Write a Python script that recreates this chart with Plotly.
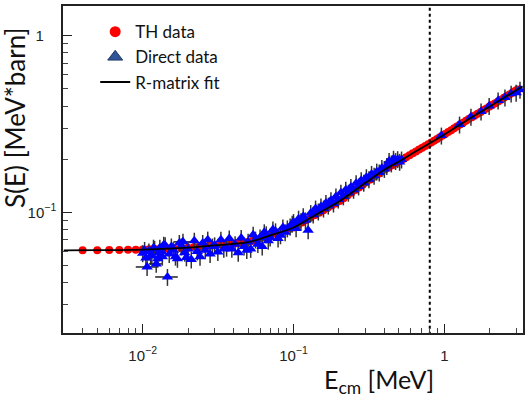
import plotly.graph_objects as go

# ---------------- data ----------------
th_E = [0.004, 0.005, 0.006, 0.007, 0.008, 0.009, 0.010, 0.011, 0.012, 0.013, 0.014, 0.015, 0.016,
        0.018, 0.020, 0.022, 0.024, 0.026, 0.028, 0.030, 0.033, 0.036, 0.039, 0.042, 0.045, 0.049,
        0.053, 0.057, 0.061, 0.066, 0.071, 0.076, 0.082, 0.088, 0.094, 0.100, 0.107, 0.114, 0.122,
        0.130, 0.139, 0.148, 0.158, 0.168, 0.179, 0.190, 0.202, 0.215, 0.228, 0.242, 0.257, 0.272,
        0.288, 0.305, 0.323, 0.342, 0.362, 0.383, 0.405, 0.428, 0.452, 0.477, 0.503, 0.530, 0.558,
        0.587, 0.617, 0.648, 0.680, 0.713, 0.747, 0.782, 0.818, 0.855, 0.893, 0.932, 0.972, 1.013,
        1.06, 1.11, 1.16, 1.21, 1.27, 1.33, 1.39, 1.45, 1.52, 1.59, 1.66, 1.74, 1.82, 1.90, 1.99,
        2.08, 2.17, 2.27, 2.37, 2.48, 2.59, 2.70, 2.82, 2.94, 3.05]
th_S = [0.0610, 0.0610, 0.0611, 0.0612, 0.0613, 0.0614, 0.0615, 0.0617, 0.0619, 0.0620, 0.0622, 0.0624, 0.0625,
        0.0628, 0.0630, 0.0635, 0.0639, 0.0643, 0.0647, 0.0650, 0.0655, 0.0660, 0.0664, 0.0668, 0.0671, 0.0676,
        0.0688, 0.0702, 0.0715, 0.0731, 0.0746, 0.0760, 0.0776, 0.0791, 0.0806, 0.0820, 0.0848, 0.0874, 0.0904,
        0.0933, 0.0964, 0.0994, 0.1026, 0.1057, 0.1091, 0.1123, 0.1157, 0.1201, 0.1244, 0.1289, 0.1337, 0.1383,
        0.1432, 0.1484, 0.1536, 0.1588, 0.1642, 0.1698, 0.1751, 0.1799, 0.1847, 0.1897, 0.1946, 0.1999, 0.2052,
        0.2105, 0.2160, 0.2214, 0.2268, 0.2322, 0.2377, 0.2432, 0.2489, 0.2546, 0.2605, 0.2663, 0.2722, 0.2779,
        0.2848, 0.2920, 0.2990, 0.3059, 0.3140, 0.3220, 0.3297, 0.3373, 0.3454, 0.3536, 0.3616, 0.3705, 0.3793,
        0.3879, 0.3973, 0.4062, 0.4152, 0.4251, 0.4347, 0.4451, 0.4555, 0.4656, 0.4765, 0.4871, 0.4963]

dir_E = [0.0100, 0.0103, 0.0105, 0.0107, 0.0110, 0.0113, 0.0115, 0.0118, 0.0120, 0.0123, 0.0126, 0.0128,
         0.0130, 0.0133, 0.0135, 0.0138, 0.0141, 0.0146, 0.0150, 0.0155, 0.0160, 0.0165, 0.0170, 0.0175,
         0.0180, 0.0185, 0.0190, 0.0195, 0.0200, 0.0210, 0.0220, 0.0230, 0.0240, 0.0250, 0.0260, 0.0270,
         0.0280, 0.0290, 0.0300, 0.0315, 0.0330, 0.0345, 0.0360, 0.0375, 0.0390, 0.0410, 0.0430, 0.0450,
         0.0470, 0.0490,
         0.050, 0.052, 0.054, 0.056, 0.058, 0.060, 0.062, 0.064, 0.066, 0.068, 0.070, 0.073, 0.076, 0.079,
         0.082, 0.085, 0.088, 0.091, 0.095, 0.098,
         0.100, 0.104, 0.108, 0.112, 0.116, 0.120, 0.125, 0.130, 0.135, 0.140, 0.146, 0.152, 0.158, 0.164,
         0.170, 0.177, 0.184, 0.191, 0.198, 0.206, 0.214, 0.222, 0.231, 0.240, 0.250, 0.260, 0.270, 0.281,
         0.292, 0.304, 0.316, 0.329, 0.342, 0.356, 0.370, 0.385, 0.400, 0.415, 0.430, 0.445, 0.460, 0.475,
         0.490, 0.505, 0.520,
         0.955, 1.26, 1.50, 1.75, 1.98, 2.27, 2.52, 2.77, 2.99, 3.17]
dir_S = [0.0586, 0.0612, 0.0550, 0.0490, 0.0600, 0.0565, 0.0570, 0.0630, 0.0620, 0.0510, 0.0545, 0.0590,
         0.0630, 0.0600, 0.0560, 0.0655, 0.0650, 0.0430, 0.0580, 0.0640, 0.0610, 0.0560, 0.0545, 0.0670,
         0.0640, 0.0680, 0.0590, 0.0555, 0.0620, 0.0540, 0.0690, 0.0600, 0.0560, 0.0670, 0.0610, 0.0700,
         0.0580, 0.0640, 0.0650, 0.0595, 0.0700, 0.0620, 0.0630, 0.0710, 0.0620, 0.0660, 0.0590, 0.0715,
         0.0640, 0.0610,
         0.0680, 0.0620, 0.0745, 0.0700, 0.0660, 0.0720, 0.0640, 0.0770, 0.0750, 0.0690, 0.0720, 0.0800,
         0.0780, 0.0710, 0.0740, 0.0820, 0.0770, 0.0810, 0.0830, 0.0860,
         0.0880, 0.0810, 0.0920, 0.0890, 0.0950, 0.0900, 0.0790, 0.0990, 0.0970, 0.1050, 0.1010, 0.1080,
         0.1050, 0.1130, 0.1090, 0.1170, 0.1120, 0.1230, 0.1180, 0.1290, 0.1230, 0.1340, 0.1290, 0.1390,
         0.1340, 0.1460, 0.1400, 0.1520, 0.1470, 0.1580, 0.1540, 0.1650, 0.1610, 0.1700, 0.1680, 0.1780,
         0.1760, 0.1830, 0.1950, 0.1890, 0.2010, 0.1950, 0.2000, 0.1930, 0.1990,
         0.272, 0.314, 0.348, 0.372, 0.400, 0.430, 0.447, 0.470, 0.476, 0.495]
dir_dE = [0.0004, 0.0004, 0.0005, 0.0017, 0.0005, 0.0005, 0.0005, 0.0005, 0.0006, 0.0013, 0.0006, 0.0006,
          0.0006, 0.0006, 0.0007, 0.0007, 0.0007, 0.0025, 0.0007, 0.0008, 0.0008, 0.0008, 0.0008, 0.0009,
          0.0009, 0.0025, 0.0009, 0.0010, 0.0010, 0.0011, 0.0011, 0.0012, 0.0012, 0.0013, 0.0013, 0.0014,
          0.0014, 0.0015, 0.0015, 0.0016, 0.0017, 0.0017, 0.0018, 0.0019, 0.0020, 0.0021, 0.0022, 0.0023,
          0.0024, 0.0025,
          0.0025, 0.0026, 0.0027, 0.0028, 0.0029, 0.0030, 0.0031, 0.0032, 0.0033, 0.0034, 0.0035, 0.0037,
          0.0038, 0.0040, 0.0041, 0.0043, 0.0044, 0.0046, 0.0048, 0.0049,
          0.0, 0.0, 0.0, 0.0, 0.0, 0.0, 0.0, 0.0, 0.0, 0.0, 0.0, 0.0, 0.0, 0.0,
          0.0, 0.0, 0.0, 0.0, 0.0, 0.0, 0.0, 0.0, 0.0, 0.0, 0.0, 0.0, 0.0, 0.0,
          0.0, 0.0, 0.0, 0.0, 0.0, 0.0, 0.0, 0.0, 0.0, 0.0, 0.0, 0.0, 0.0, 0.0,
          0.0, 0.0, 0.0,
          0.0, 0.0, 0.0, 0.0, 0.0, 0.0, 0.0, 0.0, 0.0, 0.0]
dir_rel_err = 0.11

fit_E = [0.003, 0.005, 0.01, 0.02, 0.03, 0.05, 0.07, 0.1, 0.15, 0.2, 0.3, 0.4, 0.5, 0.6, 0.8,
         1.0, 1.5, 2.0, 2.5, 3.0, 3.3]
fit_S = [0.0608, 0.0610, 0.0615, 0.0630, 0.0650, 0.0677, 0.0740, 0.0820, 0.1000, 0.1150, 0.1470,
         0.1740, 0.1940, 0.2130, 0.2460, 0.2760, 0.3430, 0.3980, 0.4470, 0.4920, 0.5170]

threshold_E = 0.8

x_tickvals = [0.01, 0.1, 1]
x_ticktext = ["10<sup>\u22122</sup>", "10<sup>\u22121</sup>", "1"]
x_minor = [0.003, 0.004, 0.005, 0.006, 0.007, 0.008, 0.009,
           0.02, 0.03, 0.04, 0.05, 0.06, 0.07, 0.08, 0.09,
           0.2, 0.3, 0.4, 0.5, 0.6, 0.7, 0.8, 0.9, 2, 3]
y_tickvals = [0.1, 1]
y_ticktext = ["10<sup>\u22121</sup>", "1\u00a0\u00a0\u00a0"]
y_minor = [0.03, 0.04, 0.05, 0.06, 0.07, 0.08, 0.09,
           0.2, 0.3, 0.4, 0.5, 0.6, 0.7, 0.8, 0.9]

# ---------------- figure ----------------
fig = go.Figure()

# legend-only entries (styled like the legend in the reference)
fig.add_trace(go.Scatter(x=[None], y=[None], mode="lines+markers", name="TH data",
                         line=dict(width=0, color="rgba(0,0,0,0)"),
                         marker=dict(symbol="circle", size=11, color="#ff0000")))
fig.add_trace(go.Scatter(x=[None], y=[None], mode="lines+markers", name="Direct data",
                         line=dict(width=0, color="rgba(0,0,0,0)"),
                         marker=dict(symbol="triangle-up", size=13, color="#2f5597",
                                     line=dict(color="#203864", width=1))))
fig.add_trace(go.Scatter(x=[None], y=[None], mode="lines", name="R-matrix fit",
                         line=dict(color="black", width=2)))

# TH data
fig.add_trace(go.Scatter(x=th_E, y=th_S, mode="markers", showlegend=False,
                         marker=dict(symbol="circle", size=8, color="#ff0000")))

# Direct data
fig.add_trace(go.Scatter(
    x=dir_E, y=dir_S, mode="markers", showlegend=False,
    marker=dict(symbol="triangle-up", size=10, color="#0000ff"),
    error_y=dict(type="data", array=[s * dir_rel_err for s in dir_S], color="#333333",
                 thickness=1.5, width=0),
    error_x=dict(type="data", array=dir_dE, color="#222222", thickness=1.5, width=0),
))

# R-matrix fit
fig.add_trace(go.Scatter(x=fit_E, y=fit_S, mode="lines", showlegend=False,
                         line=dict(color="black", width=1.8, shape="spline")))

# vertical threshold line
fig.add_trace(go.Scatter(x=[threshold_E, threshold_E], y=[0.01, 3], mode="lines",
                         showlegend=False, line=dict(color="black", width=2, dash="dot")))

axis_common = dict(type="log", showgrid=False, zeroline=False, showline=True,
                   linecolor="#222222", linewidth=1.5, mirror=True,
                   ticks="inside", ticklen=9, tickwidth=1, tickcolor="#222222",
                   tickfont=dict(family="Liberation Sans, Arial", size=15, color="#222222"))

fig.update_xaxes(**axis_common, range=[-2.528, 0.521], tickvals=x_tickvals, ticktext=x_ticktext,
                 minor=dict(tickvals=x_minor, ticks="inside", ticklen=5, tickcolor="#444444"),
                 ticklabelstandoff=8)
fig.update_yaxes(**axis_common, range=[-1.684, 0.169], tickvals=y_tickvals, ticktext=y_ticktext,
                 minor=dict(tickvals=y_minor, ticks="inside", ticklen=5, tickcolor="#444444"),
                 ticklabelstandoff=2)

fig.update_layout(
    width=529, height=399,
    margin=dict(l=63, r=4, t=5, b=66),
    paper_bgcolor="white", plot_bgcolor="white",
    font=dict(family="Lato, Noto Sans, sans-serif", color="#111111"),
    legend=dict(x=0.07, y=0.975, xanchor="left", yanchor="top",
                bgcolor="rgba(0,0,0,0)", font=dict(family="Lato", size=17, color="#111111"),
                tracegroupgap=0),
    annotations=[
        dict(text="S(E) [MeV*barn]", textangle=-90, xref="paper", yref="paper",
             x=-0.104, y=0.658, xanchor="center", yanchor="middle", showarrow=False,
             font=dict(family="Lato", size=26, color="#111111")),
        dict(text="E<sub>cm</sub> [MeV]", xref="paper", yref="paper",
             x=0.688, y=-0.146, xanchor="center", yanchor="middle", showarrow=False,
             font=dict(family="Lato", size=25, color="#111111")),
    ],
)

fig.write_html("out.html", post_script="document.body.style.margin='0';",
               config={"displayModeBar": False})
